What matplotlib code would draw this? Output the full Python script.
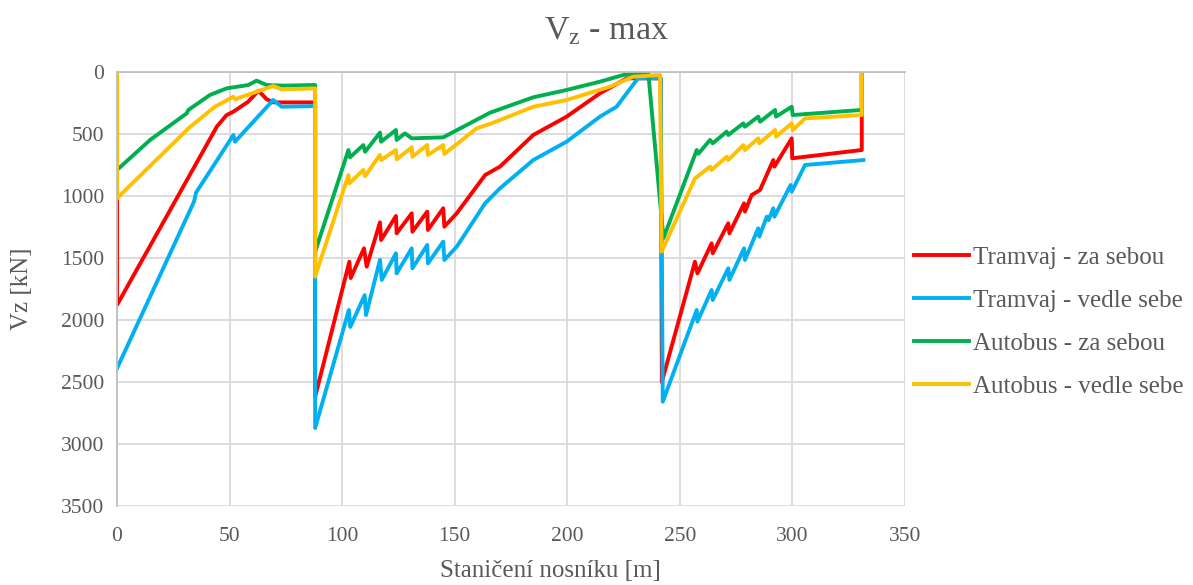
import numpy as np
import matplotlib.pyplot as plt

# stationing [m] and max shear force Vz [kN] for each load case
tram_seq_x = [0, 0, 43.5, 44.3, 48.7, 51.7, 58.3, 62.8, 66.5, 69.4, 88.0,
              88.0, 103.2, 103.8, 109.7, 110.9, 116.8, 117.3, 123.9, 124.2,
              130.9, 131.2, 137.8, 138.1, 144.9, 145.4, 150.9, 163.5, 170.1,
              184.9, 199.7, 214.5, 226.4, 241.5,
              242.0, 256.7, 257.8, 264.1, 264.6, 271.5, 272.0, 278.5, 278.9,
              281.9, 285.6, 291.5, 292.0, 299.7, 299.9, 330.8, 330.8]
tram_seq_y = [0, 1879, 468, 441, 347, 320, 239, 151, 220, 245, 245,
              2620, 1530, 1662, 1422, 1570, 1212, 1355, 1161, 1301,
              1140, 1288, 1126, 1274, 1099, 1247, 1140, 831, 763,
              508, 360, 172, 51, 51,
              2500, 1530, 1624, 1382, 1462, 1220, 1301, 1059, 1126,
              992, 952, 710, 763, 535, 696, 629, 0]

tram_side_x = [0, 34.2, 35.1, 45.0, 51.7, 52.4, 69.4, 73.1, 88.0,
               88.0, 103.0, 103.6, 110.0, 110.6, 116.8, 117.6, 123.9, 124.2,
               130.9, 131.2, 137.8, 138.1, 144.9, 145.4, 150.9, 163.5, 170.1,
               184.9, 199.7, 214.5, 221.9, 230.8, 231.5, 241.5,
               242.4, 257.5, 257.8, 264.1, 264.6, 271.5, 272.0, 278.5, 278.9,
               284.8, 285.3, 288.6, 289.4, 291.5, 292.0, 299.2, 299.7, 305.6,
               331.5]
tram_side_y = [2390, 1046, 973, 696, 508, 562, 226, 280, 275,
               2871, 1919, 2056, 1800, 1960, 1516, 1677, 1462, 1624,
               1422, 1583, 1395, 1543, 1368, 1516, 1409, 1059, 938,
               710, 562, 360, 280, 65, 51, 51,
               2659, 1919, 2013, 1758, 1839, 1583, 1677, 1422, 1516,
               1261, 1328, 1167, 1194, 1099, 1167, 911, 965, 750,
               710]

bus_seq_x = [0, 14.7, 31.0, 31.7, 41.3, 48.7, 58.3, 62.0, 66.5, 73.9, 88.0,
             88.0, 102.8, 103.5, 109.4, 110.2, 116.8, 117.3, 123.9, 124.2,
             127.9, 130.9, 144.9, 165.7, 184.9, 199.7, 214.5, 224.9, 230.8,
             236.0,
             242.7, 257.5, 258.2, 263.4, 264.6, 270.8, 271.5, 278.2, 278.9,
             284.8, 285.6, 292.3, 292.7, 299.7, 300.1, 330.8, 330.8]
bus_seq_y = [790, 548, 333, 306, 185, 132, 105, 70, 105, 110, 105,
             1450, 629, 688, 589, 643, 489, 562, 468, 548,
             495, 535, 527, 328, 204, 145, 78, 24, 11,
             11,
             1340, 629, 660, 548, 575, 481, 508, 414, 441,
             360, 401, 306, 360, 280, 347, 306, 0]

bus_side_x = [0, 0, 31.0, 31.7, 43.5, 51.7, 52.4, 62.0, 69.4, 73.1, 88.0,
              88.0, 102.8, 103.2, 109.4, 110.2, 116.8, 117.3, 123.9, 124.2,
              130.9, 131.2, 137.8, 138.1, 144.9, 145.4, 159.8, 166.4, 184.9,
              199.7, 219.0, 229.3, 241.2,
              241.9, 256.7, 263.4, 264.1, 270.8, 271.5, 278.2, 278.9, 284.8,
              285.3, 292.3, 292.7, 299.7, 300.1, 305.6, 330.8, 330.8]
bus_side_y = [0, 1019, 468, 454, 280, 199, 220, 159, 113, 140, 132,
              1650, 831, 898, 790, 839, 669, 710, 629, 704,
              608, 683, 589, 669, 589, 661, 454, 414, 280,
              226, 118, 38, 24,
              1449, 858, 763, 790, 683, 710, 589, 629, 535,
              575, 468, 521, 414, 468, 374, 347, 0]

labels = ['Tramvaj - za sebou', 'Tramvaj - vedle sebe',
          'Autobus - za sebou', 'Autobus - vedle sebe']
colors = ['#FF0000', '#00B0F0', '#00B050', '#FFC000']

plt.rcParams['font.family'] = ['Liberation Serif', 'DejaVu Serif']
txt = '#595959'

fig = plt.figure(figsize=(11.93, 5.85), dpi=100)
ax = fig.add_axes([117/1193, 1 - 506/585, (905 - 117)/1193, (506 - 72)/585])

series = [(tram_seq_x, tram_seq_y), (tram_side_x, tram_side_y),
          (bus_seq_x, bus_seq_y), (bus_side_x, bus_side_y)]
for (sx, sy), lab, c in zip(series, labels, colors):
    ax.plot(sx, sy, color=c, lw=2.8, label=lab, solid_joinstyle='round')

ax.set_xlim(0, 350)
ax.set_ylim(3500, 0)
ax.set_xticks(np.arange(0, 351, 50))
ax.set_yticks(np.arange(0, 3501, 500))
ax.grid(True, color='#D9D9D9', lw=1.3)
ax.set_axisbelow(True)
for s in ['right', 'bottom']:
    ax.spines[s].set_visible(False)
ax.spines['left'].set_color('#BFBFBF')
ax.spines['top'].set_color('#BFBFBF')
ax.spines['left'].set_linewidth(1.3)
ax.spines['top'].set_linewidth(1.3)
ax.tick_params(length=0, labelsize=15.5, colors=txt)
ax.tick_params(axis='x', pad=15)
ax.tick_params(axis='y', pad=9)

fig.text(22/1193, 1 - 289/585, 'Vz [kN]', rotation=90, ha='center',
         va='center', fontsize=18, color=txt)
fig.text(550/1193, 1 - 571/585, 'Staničení nosníku [m]', ha='center',
         va='center', fontsize=18, color=txt)
fig.text(606/1193, 1 - 31/585, r'V$_\mathregular{z}$ - max', ha='center',
         va='center', fontsize=24.5, color=txt)

ax.legend(loc='center left', bbox_to_anchor=(914/1193, 1 - 322/585),
          bbox_transform=fig.transFigure, frameon=False, fontsize=18,
          labelcolor=txt, handlelength=2.2, handletextpad=0.15,
          labelspacing=0.82, borderaxespad=0, borderpad=0)

fig.savefig('out.png', dpi=100)
